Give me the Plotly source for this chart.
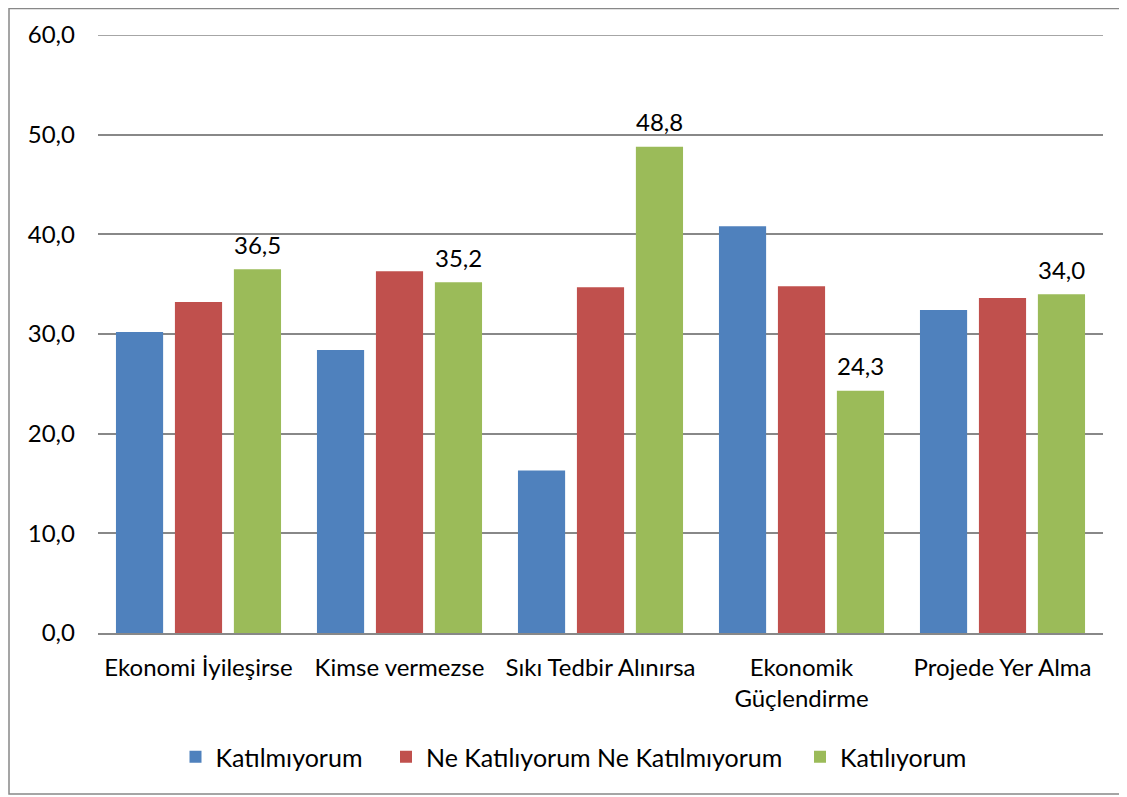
import plotly.graph_objects as go

categories = ["Ekonomi İyileşirse", "Kimse vermezse", "Sıkı Tedbir Alınırsa",
              "Ekonomik<br>Güçlendirme", "Projede Yer Alma"]
series_names = ["Katılmıyorum", "Ne Katılıyorum Ne Katılmıyorum", "Katılıyorum"]
katilmiyorum = [30.2, 28.4, 16.3, 40.8, 32.4]
ne_ne = [33.2, 36.3, 34.7, 34.8, 33.6]
katiliyorum = [36.5, 35.2, 48.8, 24.3, 34.0]
y_ticks = [0, 10, 20, 30, 40, 50, 60]

colors = ["#4F81BD", "#C0504D", "#9BBB59"]
FONT = "Lato, Carlito, Calibri, sans-serif"
FS = 24

# page body has an 8px margin; figure coordinates are screen - 8
W, H = 1117, 787
L, R, T, B = 90, 22, 27, 162
pw, ph = W - L - R, H - T - B
BARGAP = 0.12

legend_x = [(189.5 - 14 - 8 - L) / pw, (400 - 14 - 8 - L) / pw, (814 - 14 - 8 - L) / pw]
legend_names = ["legend", "legend2", "legend3"]

fig = go.Figure()
for name, vals, col, lg in zip(series_names, [katilmiyorum, ne_ne, katiliyorum], colors,
                               legend_names):
    fig.add_trace(go.Bar(
        x=categories, y=vals, name=name, legend=lg,
        marker=dict(color=col, line=dict(width=0)),
    ))

# data labels over the "Katılıyorum" bars (third bar of each group)
slot = pw / len(categories) * (1 - BARGAP) / 3
for c, v in zip(categories, katiliyorum):
    fig.add_annotation(x=c, y=v, xref="x", yref="y", text=f"{v:.1f}".replace(".", ","),
                       showarrow=False, xshift=slot, yshift=25, yanchor="middle",
                       font=dict(size=FS, family=FONT, color="black"))

leg_common = dict(orientation="h", y=(625 - 749) / ph, yanchor="middle", xanchor="left",
                  font=dict(size=FS + 1, family=FONT, color="black"), itemwidth=30,
                  bgcolor="rgba(0,0,0,0)")

fig.update_layout(
    width=W, height=H,
    margin=dict(l=L, r=R, t=T, b=B),
    paper_bgcolor="white", plot_bgcolor="white",
    separators=",.",
    barmode="group", bargap=BARGAP, bargroupgap=0.2,
    font=dict(family=FONT, size=FS, color="black"),
    showlegend=True,
    legend=dict(x=legend_x[0], **leg_common),
    legend2=dict(x=legend_x[1], **leg_common),
    legend3=dict(x=legend_x[2], **leg_common),
    xaxis=dict(showgrid=False, showline=True, linecolor="#888888", linewidth=1.5,
               ticks="", ticklabelstandoff=12, tickfont=dict(size=FS, family=FONT)),
    yaxis=dict(range=[0, 60], tickvals=y_ticks, tickformat=".1f",
               showgrid=True, gridcolor="#888888", gridwidth=1.5,
               zeroline=False, showline=False, ticks="", ticklen=0,
               ticklabelstandoff=22, tickfont=dict(size=FS, family=FONT)),
    shapes=[
        dict(type="line", xref="paper", yref="y", x0=0, x1=1, y0=y_ticks[-1], y1=y_ticks[-1],
             line=dict(color="#888888", width=1.5)),
        dict(type="rect", xref="paper", yref="paper",
             x0=(1 - L) / pw, x1=(W + 20 - L) / pw,
             y0=(T + ph - (H - 1)) / ph,
             y1=(T + ph - 0.5) / ph,
             line=dict(color="#888888", width=1.5), fillcolor="rgba(0,0,0,0)"),
    ],
)

fig.write_html("out.html")
